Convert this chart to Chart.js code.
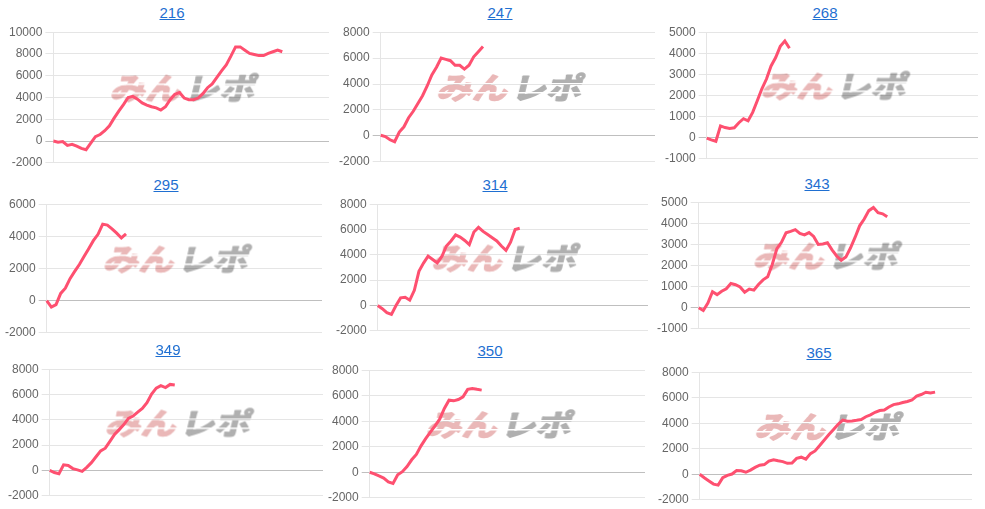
<!DOCTYPE html>
<html lang="ja">
<head>
<meta charset="utf-8">
<title>差枚グラフ</title>
<script src="https://cdn.jsdelivr.net/npm/chart.js@4.4.1/dist/chart.umd.min.js"></script>
<style>
    html, body { margin: 0; padding: 0; background: #fff; }
    body { width: 985px; height: 509px; position: relative; overflow: hidden; font-family: "Liberation Sans", Arial, sans-serif; }
    .ttl { position: absolute; width: 80px; text-align: center; font-size: 15px; line-height: 20px; color: #1f6fd1; text-decoration: underline; }
    .box { position: absolute; }
    .box canvas { display: block; }

    #t0 { left: 132px; top: 3px; }   #b0 { left: 6px;   top: 22px;  width: 323px; height: 151px; }
    #t1 { left: 460px; top: 3px; }   #b1 { left: 336px; top: 22px;  width: 319px; height: 150px; }
    #t2 { left: 785px; top: 3px; }   #b2 { left: 662px; top: 22px;  width: 316px; height: 147px; }
    #t3 { left: 126px; top: 175px; } #b3 { left: 2px;   top: 194px; width: 320px; height: 149px; }
    #t4 { left: 455px; top: 175px; } #b4 { left: 333px; top: 194px; width: 315px; height: 147px; }
    #t5 { left: 777px; top: 174px; } #b5 { left: 654px; top: 192px; width: 316px; height: 147px; }
    #t6 { left: 128px; top: 340px; } #b6 { left: 5px;   top: 359px; width: 318px; height: 147px; }
    #t7 { left: 450px; top: 341px; } #b7 { left: 325px; top: 360px; width: 320px; height: 148px; }
    #t8 { left: 779px; top: 343px; } #b8 { left: 655px; top: 362px; width: 317px; height: 148px; }
</style>
</head>
<body>
<script>
// machine numbers (titles)
const machineNos = ['216', '247', '268', '295', '314', '343', '349', '350', '365'];

// x slots (same count for every machine, data stops where the day ended)
const slots = Array.from({ length: 60 }, (_, i) => i + 1);

// diff coins per machine
const diff216 = [0, -100, -50, -400, -300, -470, -680, -800, -200, 400, 600, 950, 1400, 2100, 2750, 3350, 4000, 4100, 3850, 3500,
    3300, 3150, 3050, 2850, 3150, 3800, 4300, 4450, 3950, 3800, 3800, 3950, 4350, 4900, 5250, 5850, 6450, 7000, 7800, 8650,
    8650, 8350, 8050, 7950, 7850, 7850, 8050, 8200, 8350, 8200];
const diff247 = [50, -50, -300, -450, 300, 700, 1400, 1900, 2500, 3100, 3850, 4700, 5300, 6000, 5900, 5800, 5450, 5450, 5150, 5450,
    6100, 6500, 6900];
const diff268 = [-20, -100, -170, 560, 480, 440, 470, 710, 900, 800, 1200, 1750, 2320, 2780, 3400, 3800, 4330, 4580, 4240];
const diff295 = [0, -400, -250, 450, 770, 1370, 1820, 2250, 2740, 3230, 3730, 4130, 4760, 4700, 4470, 4200, 3900, 4160];
const diff314 = [0, -250, -560, -700, 0, 600, 650, 420, 1200, 2700, 3350, 3900, 3630, 3370, 3870, 4700, 5100, 5570, 5400, 5140,
    4800, 5800, 6170, 5850, 5600, 5350, 5100, 4700, 4350, 5000, 6000, 6100];
const diff343 = [0, -130, 220, 760, 620, 780, 900, 1150, 1090, 980, 730, 880, 830, 1100, 1320, 1470, 2050, 2800, 3100, 3550,
    3620, 3700, 3520, 3450, 3560, 3380, 3000, 3020, 3080, 2740, 2450, 2250, 2400, 2830, 3330, 3880, 4200, 4600, 4750, 4500,
    4450, 4310];
const diff349 = [0, -160, -250, 450, 400, 150, 50, -70, 250, 620, 1080, 1550, 1760, 2300, 2850, 3230, 3620, 4120, 4300, 4610,
    4900, 5350, 6040, 6500, 6700, 6550, 6800, 6750];
const diff350 = [0, -120, -290, -450, -750, -880, -200, 50, 450, 980, 1400, 2070, 2640, 3150, 3630, 4160, 5000, 5650, 5600, 5700,
    5910, 6500, 6570, 6500, 6440];
const diff365 = [0, -270, -520, -770, -850, -270, -80, 20, 290, 270, 160, 330, 540, 710, 760, 1040, 1140, 1060, 990, 860,
    880, 1250, 1340, 1190, 1620, 1830, 2250, 2690, 3110, 3510, 3920, 4250, 4160, 4180, 4230, 4290, 4510, 4660, 4860, 5000,
    5040, 5270, 5460, 5520, 5620, 5700, 5820, 6130, 6250, 6430, 6370, 6440];

const diffs = [diff216, diff247, diff268, diff295, diff314, diff343, diff349, diff350, diff365];

// y axis ticks per machine
const yMins = [-2000, -2000, -1000, -2000, -2000, -1000, -2000, -2000, -2000];
const yMaxs = [10000, 8000, 5000, 6000, 8000, 5000, 8000, 8000, 8000];
const ySteps = [2000, 2000, 1000, 2000, 2000, 1000, 2000, 2000, 2000];

// watermark logo, drawn once on a small canvas
function makeLogo() {
    const c = document.createElement('canvas');
    c.width = 170;
    c.height = 36;
    const g = c.getContext('2d');
    g.setTransform(1.18, 0, -0.24, 1, 8, 0);
    g.font = 'bold 30px "Noto Sans CJK JP"';
    g.textBaseline = 'middle';
    g.lineJoin = 'round';
    g.lineWidth = 1.5;
    const w = g.measureText('みん').width;
    g.fillStyle = g.strokeStyle = '#eab8b8';
    g.fillText('みん', 2, 18);
    g.strokeText('みん', 2, 18);
    g.fillStyle = g.strokeStyle = '#b0b0b0';
    g.fillText('レポ', 5 + w, 18);
    g.strokeText('レポ', 5 + w, 18);
    // speed stripes
    g.setTransform(1, 0, 0, 1, 0, 0);
    g.globalCompositeOperation = 'destination-out';
    g.fillRect(0, 13, c.width, 1.5);
    g.fillRect(0, 22, c.width, 1.5);
    return c;
}
const logo = makeLogo();

const watermark = {
    id: 'watermark',
    beforeDraw(chart) {
        const a = chart.chartArea;
        const cx = (a.left + a.right) / 2;
        const cy = (a.top + a.bottom) / 2 - 9;
        chart.ctx.drawImage(logo, cx - logo.width / 2, cy - logo.height / 2);
    }
};

machineNos.forEach((no, i) => {
    const t = document.createElement('a');
    t.className = 'ttl';
    t.id = 't' + i;
    t.href = '#';
    t.textContent = no;
    document.body.appendChild(t);

    const box = document.createElement('div');
    box.className = 'box';
    box.id = 'b' + i;
    const canvas = document.createElement('canvas');
    box.appendChild(canvas);
    document.body.appendChild(box);

    new Chart(canvas, {
        type: 'line',
        data: {
            labels: slots,
            datasets: [{
                data: diffs[i],
                borderColor: '#fe5070',
                borderWidth: 3,
                pointRadius: 0,
                fill: false,
                tension: 0
            }]
        },
        options: {
            responsive: true,
            maintainAspectRatio: false,
            animation: false,
            layout: { padding: 0 },
            plugins: {
                legend: { display: false },
                tooltip: { enabled: false }
            },
            scales: {
                x: { display: false },
                y: {
                    min: yMins[i],
                    max: yMaxs[i],
                    ticks: {
                        stepSize: ySteps[i],
                        color: '#666',
                        padding: 3,
                        font: { size: 12, family: '"Liberation Sans", Arial, sans-serif' },
                        callback: (v) => String(v)
                    },
                    grid: {
                        color: (c) => c.tick && c.tick.value === 0 ? 'rgba(0,0,0,0.25)' : 'rgba(0,0,0,0.1)',
                        tickLength: 8
                    },
                    border: { color: 'rgba(0,0,0,0.1)' }
                }
            }
        },
        plugins: [watermark]
    });
});
</script>
</body>
</html>
